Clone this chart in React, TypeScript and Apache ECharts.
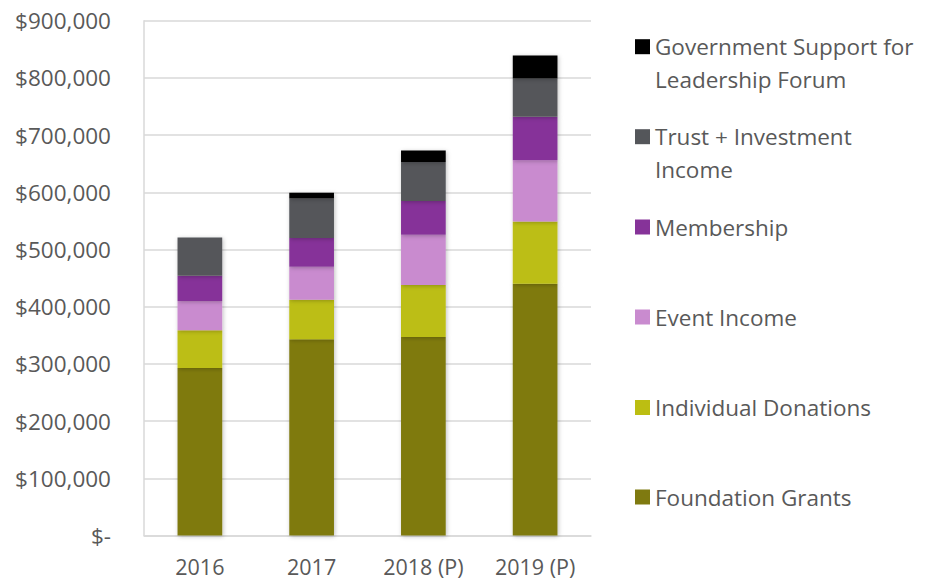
import React, { useEffect, useRef } from "react";
import * as echarts from "echarts";

const categories = ["2016", "2017", "2018 (P)", "2019 (P)"];
const foundationGrants = [293000, 343000, 347000, 440000];
const individualDonations = [66000, 69000, 91000, 109000];
const eventIncome = [51000, 58000, 88000, 107000];
const membership = [44000, 50000, 59000, 76000];
const trustInvestment = [67000, 69000, 68000, 67000];
const governmentSupport = [0, 10000, 20000, 40000];

const seriesNames = [
  "Foundation Grants",
  "Individual Donations",
  "Event Income",
  "Membership",
  "Trust + Investment Income",
  "Government Support for Leadership Forum",
];
const seriesData = [
  foundationGrants,
  individualDonations,
  eventIncome,
  membership,
  trustInvestment,
  governmentSupport,
];
const colors = ["#7F7A10", "#BCBE12", "#C98BCF", "#863399", "#54565A", "#000000"];

const FONT = "Open Sans";
const TEXT_COLOR = "#595959";
const FS = 22.5;

export default function App() {
  const ref = useRef<HTMLDivElement>(null);
  useEffect(() => {
    if (!ref.current) return;
    const chart = echarts.init(ref.current, null, { renderer: "svg" });

    const legendLayout: { name: string; top: number; text: string }[] = [
      { name: seriesNames[5], top: -2.8, text: "\nGovernment Support for\nLeadership Forum" },
      { name: seriesNames[4], top: 87.2, text: "\nTrust + Investment\nIncome" },
      { name: seriesNames[3], top: 210.5, text: "Membership" },
      { name: seriesNames[2], top: 300.5, text: "Event Income" },
      { name: seriesNames[1], top: 391, text: "Individual Donations" },
      { name: seriesNames[0], top: 480.5, text: "Foundation Grants" },
    ];

    chart.setOption({
      animation: false,
      textStyle: { fontFamily: FONT },
      grid: { left: 144, right: 349, top: 20.7, bottom: 46.5, containLabel: false },
      legend: legendLayout.map((l) => ({
        data: [l.name],
        orient: "vertical",
        left: 635,
        top: l.top,
        padding: 0,
        itemWidth: 15,
        itemHeight: 15,
        itemGap: 0,
        icon: "rect",
        selectedMode: false,
        formatter: () => l.text,
        textStyle: {
          fontFamily: FONT,
          fontSize: FS,
          lineHeight: 33,
          color: TEXT_COLOR,
        },
      })),
      xAxis: {
        type: "category",
        data: categories,
        axisLine: { lineStyle: { color: "#D9D9D9", width: 1.5 } },
        axisTick: { show: false },
        axisLabel: {
          color: TEXT_COLOR,
          fontFamily: FONT,
          fontSize: 21.5,
          lineHeight: 21,
          margin: 20,
        },
      },
      yAxis: {
        type: "value",
        min: 0,
        max: 900000,
        interval: 100000,
        axisLine: { show: true, lineStyle: { color: "#D9D9D9", width: 1.5 } },
        axisTick: { show: false },
        splitLine: { lineStyle: { color: "#D9D9D9", width: 1.5 } },
        axisLabel: {
          color: TEXT_COLOR,
          fontFamily: FONT,
          fontSize: FS,
          margin: 33,
          formatter: (v: number) =>
            v === 0 ? "$-" : "$" + v.toLocaleString("en-US"),
        },
      },
      series: seriesData.map((d, i) => ({
        name: seriesNames[i],
        type: "bar",
        stack: "total",
        data: d,
        barWidth: "40%",
        itemStyle: {
          color: colors[i],
          shadowBlur: 4,
          shadowColor: "rgba(0,0,0,0.25)",
          shadowOffsetX: 1,
          shadowOffsetY: 1,
        },
      })),
    });
    return () => chart.dispose();
  }, []);
  return (
    <div
      ref={ref}
      style={{ position: "fixed", left: 0, top: 0, width: 940, height: 582, background: "#fff" }}
    />
  );
}
